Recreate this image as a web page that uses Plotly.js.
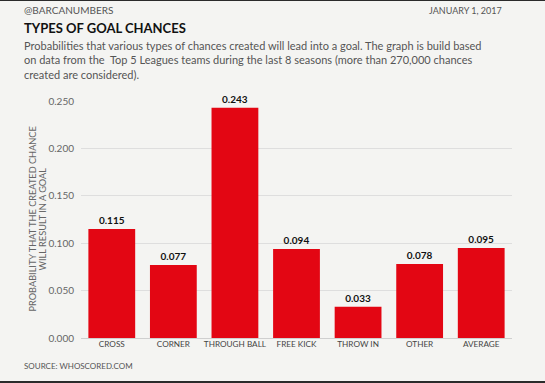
<!DOCTYPE html>
<html>
<head>
<meta charset="utf-8">
<script src="https://cdn.plot.ly/plotly-3.0.1.min.js"></script>
<style>
html,body{margin:0;padding:0;background:#2b2b2b;}
#wrap{position:absolute;left:0;top:1px;width:545px;height:380px;background:#f4f4f2;}
#chart{width:545px;height:380px;}
</style>
</head>
<body>
<div id="wrap"><div id="chart"></div></div>
<script>
const categories = ["CROSS","CORNER","THROUGH BALL","FREE KICK","THROW IN","OTHER","AVERAGE"];
const probabilities = [0.115, 0.077, 0.243, 0.094, 0.033, 0.078, 0.095];
const yTicks = [0, 0.05, 0.1, 0.15, 0.2, 0.25];
const yTickLabels = ["0.000","0.050","0.100","0.150","0.200","0.250"];
const subtitleLines = [
  "Probabilities that various types of chances created will lead into a goal. The graph is build based",
  "on data from the  Top 5 Leagues teams during the last 8 seasons (more than 270,000 chances",
  "created are considered)."
];

const FONT = "Lato, 'Open Sans', sans-serif";
const trace = {
  type: "bar",
  x: categories,
  y: probabilities,
  marker: {color: "#e30613"},
  texttemplate: "%{y:.3f}",
  textposition: "outside",
  cliponaxis: false,
  textfont: {family: FONT, size: 10, color: "#111", weight: 700},
  hoverinfo: "none"
};

const PL = 81, PW = 431, PB = 337, PH = 237;
const px = v => (v - PL) / PW;
const py = v => (PB - (v - 1)) / PH;

const annotations = [
  {xref:"paper", yref:"paper", x:px(32), y:0.5, xanchor:"center", yanchor:"middle",
   textangle:-90, text:"PROBABILITY THAT THE CREATED CHANCE", borderpad:0,
   showarrow:false, font:{family:FONT, size:9.2, color:"#666"}},
  {xref:"paper", yref:"paper", x:px(42), y:0.5, xanchor:"center", yanchor:"middle",
   textangle:-90, text:"WILL RESULT IN A GOAL", borderpad:0,
   showarrow:false, font:{family:FONT, size:9.2, color:"#666"}},
  {xref:"paper", yref:"paper", x:px(22), y:py(10), xanchor:"left", yanchor:"middle",
   text:"@BARCANUMBERS", showarrow:false, font:{family:FONT, size:10, color:"#555"}},
  {xref:"paper", yref:"paper", x:px(504), y:py(10), xanchor:"right", yanchor:"middle",
   text:"JANUARY 1, 2017", showarrow:false, font:{family:FONT, size:9, color:"#555"}},
  {xref:"paper", yref:"paper", x:px(22), y:py(28), xanchor:"left", yanchor:"middle",
   text:"<b>TYPES OF GOAL CHANCES</b>", showarrow:false, font:{family:FONT, size:13, color:"#111"}},
  {xref:"paper", yref:"paper", x:px(22), y:py(366), xanchor:"left", yanchor:"middle",
   text:"SOURCE: WHOSCORED.COM", showarrow:false, font:{family:FONT, size:8, color:"#555"}}
];
subtitleLines.forEach((t, i) => {
  annotations.push({xref:"paper", yref:"paper", x:px(22), y:py(46 + 14 * i), xanchor:"left", yanchor:"middle",
    text:t, showarrow:false, font:{family:FONT, size:11, color:"#555"}});
});

const layout = {
  width: 545, height: 380,
  paper_bgcolor: "#f4f4f2",
  plot_bgcolor: "#f4f4f2",
  margin: {l: 81, r: 33, t: 100, b: 43},
  bargap: 0.24,
  showlegend: false,
  font: {family: FONT, color: "#555"},
  xaxis: {
    tickfont: {family: FONT, size: 8.2, color: "#444"},
    showgrid: false, showline: false, ticks: "",
    fixedrange: true
  },
  yaxis: {
    range: [0, 0.25],
    tickvals: yTicks, ticktext: yTickLabels,
    tickfont: {family: FONT, size: 10, color: "#666"},
    gridcolor: "#dedede", gridwidth: 1,
    zeroline: true, zerolinecolor: "#cfcfcf", zerolinewidth: 1,
    ticks: "", ticklabelstandoff: 6,
    fixedrange: true
  },
  annotations: annotations
};

Plotly.newPlot("chart", [trace], layout, {displayModeBar: false, staticPlot: true});
</script>
</body>
</html>
